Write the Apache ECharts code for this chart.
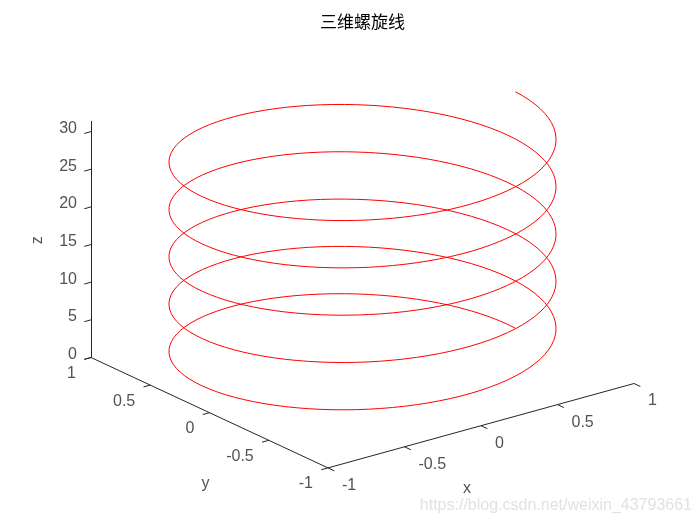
<!DOCTYPE html>
<html>
<head>
<meta charset="utf-8">
<script src="https://cdn.jsdelivr.net/npm/echarts@6/dist/echarts.min.js"></script>
<style>html,body{margin:0;padding:0;background:#fff;}#chart{width:700px;height:525px;}</style>
</head>
<body>
<div id="chart"></div>
<script>
// ---- data ----
const titleText = '三维螺旋线';
// helix: x = cos(t), y = sin(t), z = t, t = 0 : pi/50 : 10*pi
const helixT = { start: 0, end: 10 * Math.PI, step: Math.PI / 50 };
const xLimits = [-1, 1];
const yLimits = [-1, 1];
const zLimits = [0, 10 * Math.PI];
const xTicks = [-1, -0.5, 0, 0.5, 1];
const yTicks = [-1, -0.5, 0, 0.5, 1];
const zTicks = [0, 5, 10, 15, 20, 25, 30];
const xTickLabels = ['-1', '-0.5', '0', '0.5', '1'];
const yTickLabels = ['-1', '-0.5', '0', '0.5', '1'];
const zTickLabels = ['0', '5', '10', '15', '20', '25', '30'];
const axisNames = ['x', 'y', 'z'];
const watermark = 'https://blog.csdn.net/weixin_43793661';

// ---- view projection (MATLAB default 3-D view) ----
const view = { ox: 362.5, oy: 370.5, ex: [153, -42.2], ey: [-118.5, -55.2], ez: -7.53 };
function proj(x, y, z) {
  return [view.ox + x * view.ex[0] + y * view.ey[0],
          view.oy + x * view.ex[1] + y * view.ey[1] + z * view.ez];
}
function unit(v) { const l = Math.hypot(v[0], v[1]); return [v[0] / l, v[1] / l]; }
const tickLen = 7;
const dirNegX = unit([-view.ex[0], -view.ex[1]]);
const dirNegY = unit([-view.ey[0], -view.ey[1]]);

// helix points
const helixPts = [];
const n = Math.round((helixT.end - helixT.start) / helixT.step);
for (let i = 0; i <= n; i++) {
  const t = helixT.start + i * helixT.step;
  helixPts.push(proj(Math.cos(t), Math.sin(t), t));
}

// axis lines
const axisSegs = [
  [proj(xLimits[0], yLimits[1], zLimits[0]), proj(xLimits[0], yLimits[1], zLimits[1])],
  [proj(xLimits[0], yLimits[1], zLimits[0]), proj(xLimits[0], yLimits[0], zLimits[0])],
  [proj(xLimits[0], yLimits[0], zLimits[0]), proj(xLimits[1], yLimits[0], zLimits[0])]
];
const tickSegs = [];
const labelPts = [];
function addTick(p, dir) {
  tickSegs.push([p, [p[0] + dir[0] * tickLen, p[1] + dir[1] * tickLen]]);
}
zTicks.forEach((v, i) => {
  const p = proj(xLimits[0], yLimits[1], v);
  addTick(p, dirNegX);
  labelPts.push({ value: [p[0] - 14, p[1] - 3], name: zTickLabels[i], align: 'right' });
});
yTicks.forEach((v, i) => {
  const p = proj(xLimits[0], v, zLimits[0]);
  addTick(p, dirNegX);
  labelPts.push({ value: [p[0] - 15, p[1] + 16], name: yTickLabels[i], align: 'right' });
});
xTicks.forEach((v, i) => {
  const p = proj(v, yLimits[0], zLimits[0]);
  addTick(p, dirNegY);
  labelPts.push({ value: [p[0] + 14, p[1] + 17.5], name: xTickLabels[i], align: 'left' });
});
const xMid = proj((xLimits[0] + xLimits[1]) / 2, yLimits[0], zLimits[0]);
const yMid = proj(xLimits[0], (yLimits[0] + yLimits[1]) / 2, zLimits[0]);
const zMid = proj(xLimits[0], yLimits[1], (zLimits[0] + zLimits[1]) / 2);
const namePts = [
  { value: [xMid[0] - 14, xMid[1] + 63], name: axisNames[0], rotate: 0 },
  { value: [yMid[0] - 4, yMid[1] + 71], name: axisNames[1], rotate: 0 },
  { value: [zMid[0] - 53, zMid[1] + 1], name: axisNames[2], rotate: 90 }
];

const axisColor = '#262626';
const chart = echarts.init(document.getElementById('chart'), null, { renderer: 'canvas' });
chart.setOption({
  animation: false,
  backgroundColor: '#ffffff',
  grid: { left: 0, top: 0, right: 0, bottom: 0 },
  xAxis: { type: 'value', min: 0, max: 700, show: false },
  yAxis: { type: 'value', min: 0, max: 525, inverse: true, show: false },
  graphic: [
    { type: 'text', x: 362.5, y: 22, style: { text: titleText, font: '17px "Noto Sans CJK SC"', fill: '#000', align: 'center', verticalAlign: 'middle' } },
    { type: 'text', x: 692, y: 506, style: { text: watermark, font: '16px "Liberation Sans", Arial', fill: '#e2e2e2', align: 'right', verticalAlign: 'middle' } }
  ],
  series: [
    {
      type: 'lines', coordinateSystem: 'cartesian2d', silent: true,
      lineStyle: { color: axisColor, width: 1, opacity: 1 },
      data: axisSegs.concat(tickSegs).map(s => ({ coords: s }))
    },
    {
      type: 'line', data: helixPts, showSymbol: false, silent: true,
      lineStyle: { color: '#ff0000', width: 1 }, z: 3
    },
    {
      type: 'scatter', symbolSize: 0, silent: true,
      data: labelPts.map(d => ({
        value: d.value, name: d.name,
        label: { align: d.align }
      })),
      label: {
        show: true, position: 'inside', formatter: p => p.name,
        verticalAlign: 'middle', color: axisColor,
        fontFamily: '"Liberation Sans", Arial', fontSize: 16
      }
    },
    {
      type: 'scatter', symbolSize: 0, silent: true,
      data: namePts.map(d => ({ value: d.value, name: d.name, label: { rotate: d.rotate } })),
      label: {
        show: true, position: 'inside', formatter: p => p.name,
        align: 'center', verticalAlign: 'middle', color: axisColor,
        fontFamily: '"Liberation Sans", Arial', fontSize: 16
      }
    }
  ]
});
</script>
</body>
</html>
